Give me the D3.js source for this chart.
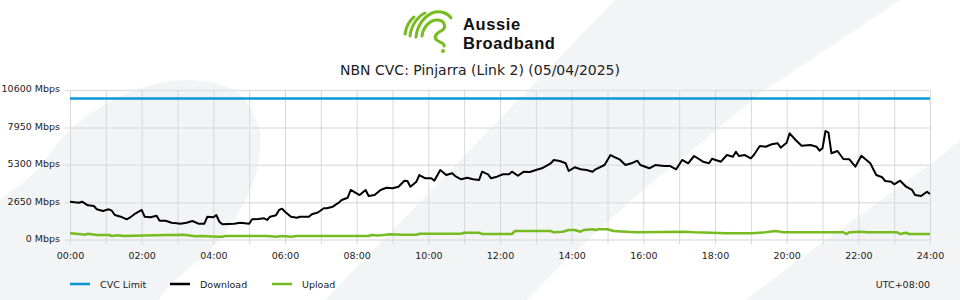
<!DOCTYPE html>
<html>
<head>
<meta charset="utf-8">
<script src="https://cdn.jsdelivr.net/npm/d3@7"></script>
<style>
  body { margin: 0; background: #fff; }
  svg text { font-family: "DejaVu Sans", sans-serif; fill: #222; }
</style>
</head>
<body>
<div id="chart"></div>
<script>
// chart data (minutes after midnight / Mbps)
const xTickLabels = ["00:00","02:00","04:00","06:00","08:00","10:00","12:00",
                     "14:00","16:00","18:00","20:00","22:00","24:00"];
const yTicks = [0, 2650, 5300, 7950, 10600];

const cvcMinutes = [0, 1440];
const cvcMbps = [10000, 10000];

const downloadMinutes = [0,15,20,30,40,45,55,65,70,75,85,95,100,110,120,125,135,145,150,160,
  170,175,185,195,205,215,225,230,240,245,250,255,275,285,300,305,315,325,330,335,
  345,350,355,360,370,380,385,400,405,415,425,430,440,450,455,465,470,485,495,500,
  510,520,530,540,550,560,565,570,580,585,595,605,610,620,630,640,645,655,665,675,
  685,690,700,705,715,725,735,740,750,760,770,780,790,805,810,820,830,835,845,855,
  865,875,880,895,905,910,920,930,940,950,955,970,980,995,1005,1015,1025,1035,1045,1060,
  1070,1075,1090,1100,1110,1115,1120,1130,1140,1145,1155,1165,1175,1185,1190,1200,1205,1215,1225,1240,
  1250,1255,1260,1265,1270,1275,1285,1290,1295,1305,1315,1325,1340,1350,1360,1365,1375,1380,1390,1400,
  1410,1415,1425,1435,1440];
const downloadMbps = [2680,2609,2680,2425,2375,2141,2021,2141,2042,1737,1617,1432,1546,1858,2092,1617,1574,1687,1333,1333,
  1191,1170,1120,1191,1312,1120,1120,1617,1574,1737,1262,1078,1120,1191,1120,1432,1453,1503,1383,1617,
  1716,2092,2184,1971,1617,1546,1617,1617,1787,1914,2212,2212,2326,2609,2801,2964,3510,3155,3510,3084,
  3155,3510,3673,3630,3744,4169,4148,3744,4098,4573,4339,4339,4169,4928,4573,4694,4502,4268,4382,4268,
  4219,4807,4623,4339,4453,4623,4623,4807,4523,4807,4786,4928,5048,5403,5637,5566,5403,4857,5119,4977,
  4928,4807,4977,5282,5991,5871,5686,5282,5403,5587,5282,5048,5282,5211,5211,4977,5637,5403,5920,5516,
  5403,5729,5516,5991,5871,6225,5920,5991,5757,5991,6629,6580,6750,6821,6509,6863,7530,7055,6650,6700,
  6580,6296,6466,7693,7572,6112,6275,5991,5707,5686,5162,5941,5403,4573,4410,4148,4098,3914,4169,3744,
  3510,3155,3084,3389,3226];

const uploadMinutes = [0,15,25,30,45,65,70,80,90,160,175,190,210,220,250,255,260,330,345,355,
  370,380,500,505,515,525,535,555,580,585,655,660,685,690,710,740,745,805,810,825,
  835,845,855,860,875,880,885,900,910,930,950,1030,1045,1100,1140,1165,1180,1195,1295,1300,
  1305,1325,1335,1385,1390,1400,1405,1440];
const uploadMbps = [440,390,340,411,319,319,248,298,248,319,319,340,227,248,199,199,248,248,199,248,
  199,248,248,319,283,319,369,340,340,411,411,482,482,390,390,390,603,603,510,553,
  674,674,553,674,723,674,723,723,603,553,510,553,510,440,440,510,603,510,510,390,
  510,553,510,510,390,480,390,390];

const seriesNames = ["CVC Limit", "Download", "Upload"];
const seriesColors = ["#0b96d8", "#000000", "#76bc21"];

const width = 960;
const height = 300;

const svg = d3.select("#chart")
  .append("svg")
  .attr("width", width)
  .attr("height", height);

// decorative background shapes
const bg = svg.append("g").attr("fill", "#f3f4f6");
bg.append("path")
  .attr("d", d3.line().curve(d3.curveCatmullRomClosed)([
    [190, 80], [236, 92], [258, 125], [258, 165], [243, 205], [215, 245],
    [170, 285], [130, 330], [0, 345], [-60, 260], [35, 172], [72, 128], [130, 92]
  ]));
bg.append("path").attr("d", "M615,0 L900,0 L765,90 L636,196 L566,260 L527,300 L325,300 Z");
bg.append("path").attr("d", "M960,140 L936,160 L819,245 L799,260 L745,300 L960,300 Z");

// logo
const logo = svg.append("g")
  .attr("fill", "none")
  .attr("stroke", "#76bc21")
  .attr("stroke-width", 3)
  .attr("stroke-linecap", "round");
logo.append("path").attr("d", "M405,34 C406,27 409,21 414,17");
logo.append("path").attr("d", "M410,36 C411,26 417,17 425,13");
logo.append("path").attr("d", "M416,37 C417,25 425,15 435,12 C441,11 448,13 451,18");
logo.append("path").attr("d", "M422,36 C423,27 430,20 437,20 C445,20 447,28 441,31 C435,34 433,38 438,41 C442,43 445,44 444,46");
svg.append("circle").attr("cx", 443).attr("cy", 51).attr("r", 2).attr("fill", "#76bc21");

svg.append("text").attr("x", 463).attr("y", 30)
  .style("font-family", "'Liberation Sans', Arial, sans-serif")
  .attr("font-weight", "bold").attr("font-size", 16.5)
  .attr("letter-spacing", 0.6).style("fill", "#111")
  .text("Aussie");
svg.append("text").attr("x", 463).attr("y", 48.5)
  .style("font-family", "'Liberation Sans', Arial, sans-serif")
  .attr("font-weight", "bold").attr("font-size", 16.5)
  .attr("letter-spacing", 0.6).style("fill", "#111")
  .text("Broadband");

// title
svg.append("text")
  .attr("x", width / 2)
  .attr("y", 75)
  .attr("text-anchor", "middle")
  .attr("font-size", 14)
  .text("NBN CVC: Pinjarra (Link 2) (05/04/2025)");

// scales
const x = d3.scaleLinear().domain([0, 1440]).range([70, 930]);
const y = d3.scaleLinear().domain([0, 10600]).range([239.5, 90]);

// y axis + horizontal grid
const yAxis = svg.append("g")
  .attr("transform", "translate(65,0)")
  .call(d3.axisLeft(y)
    .tickValues(yTicks)
    .tickSize(-865)
    .tickPadding(5)
    .tickFormat(d => d + " Mbps"));
yAxis.select(".domain").remove();
yAxis.selectAll("line").attr("stroke", "#e2e2e2").attr("stroke-width", 1.5);
yAxis.selectAll("text").attr("font-size", 9.5).attr("dy", "0.2em").style("fill", "#222");

// x axis + vertical grid (every hour, label every two)
const hourTicks = d3.range(0, 1441, 60);
const xAxis = svg.append("g")
  .attr("transform", "translate(0,244.5)")
  .call(d3.axisBottom(x)
    .tickValues(hourTicks)
    .tickSize(-154.5)
    .tickPadding(8)
    .tickFormat(d => d % 120 === 0 ? xTickLabels[d / 120] : ""));
xAxis.select(".domain").remove();
xAxis.selectAll("line").attr("stroke", "#d8d8d8").attr("stroke-width", 1);
xAxis.selectAll("text").attr("font-size", 9.5).style("fill", "#222");

// lines
const line = d3.line()
  .x(d => x(d[0]))
  .y(d => y(d[1]));

const series = [
  d3.zip(cvcMinutes, cvcMbps),
  d3.zip(downloadMinutes, downloadMbps),
  d3.zip(uploadMinutes, uploadMbps)
];

svg.selectAll(".series")
  .data(series)
  .enter()
  .append("path")
  .attr("class", "series")
  .attr("d", line)
  .attr("fill", "none")
  .attr("stroke", (d, i) => seriesColors[i])
  .attr("stroke-width", (d, i) => i === 1 ? 2 : 2.5)
  .attr("stroke-linejoin", "round");

// legend
const legendX = [70, 170, 272];
const legend = svg.selectAll(".legend")
  .data(seriesNames)
  .enter()
  .append("g")
  .attr("class", "legend")
  .attr("transform", (d, i) => `translate(${legendX[i]},284)`);
legend.append("line")
  .attr("x1", 0).attr("x2", 20)
  .attr("stroke", (d, i) => seriesColors[i])
  .attr("stroke-width", 2.5);
legend.append("text")
  .attr("x", 30).attr("y", 3.5)
  .attr("font-size", 9.5)
  .text(d => d);

svg.append("text")
  .attr("x", 930).attr("y", 287.5)
  .attr("text-anchor", "end")
  .attr("font-size", 9.5)
  .text("UTC+08:00");
</script>
</body>
</html>
